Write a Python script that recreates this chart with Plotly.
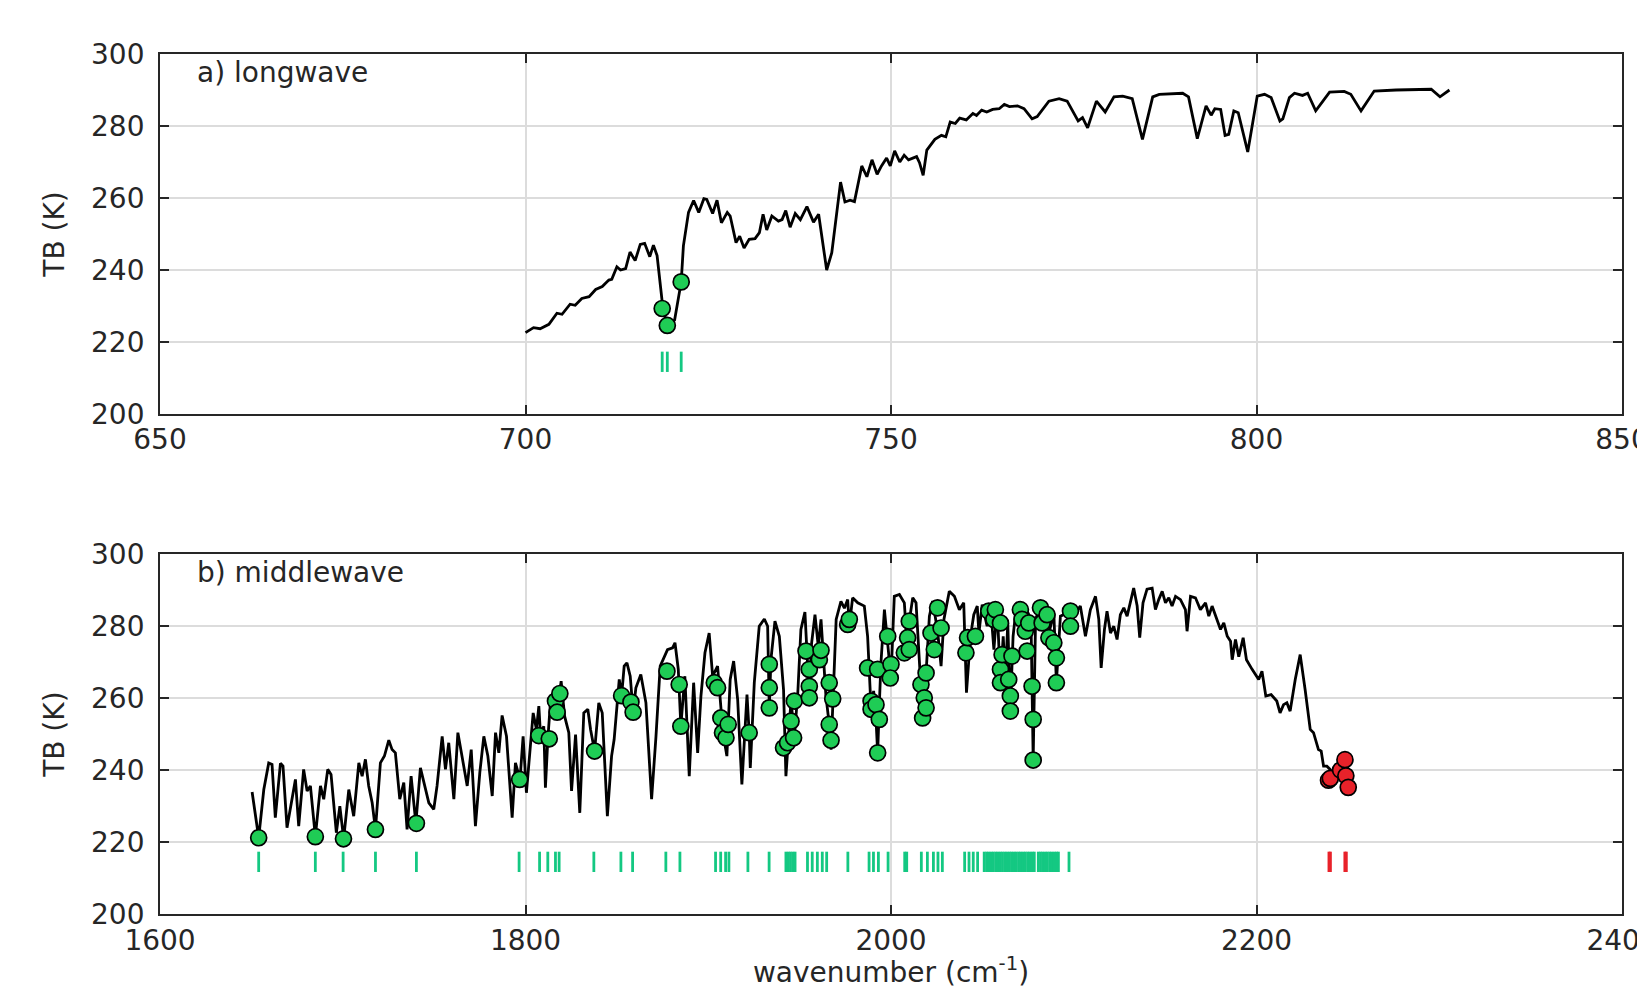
import plotly.graph_objects as go

# ---------------- data: a) longwave ----------------
lw_wn = [700.0, 701.1, 702.0, 703.2, 704.3, 705.0, 706.1, 706.8, 707.7, 708.7, 709.6, 710.5, 711.4, 711.8,
         712.5, 713.0, 713.7, 714.3, 715.0, 715.7, 716.3, 717.0, 717.5, 718.0, 718.8, 719.4, 720.4, 721.3,
         721.6, 722.3, 723.0, 723.7, 724.4, 724.8, 725.6, 726.2, 726.8, 727.6, 728.0, 728.8, 729.3, 729.9,
         730.6, 731.4, 732.0, 732.5, 733.0, 733.7, 734.6, 735.1, 735.6, 736.2, 736.9, 737.6, 738.5, 739.4,
         740.1, 741.2, 741.9, 743.1, 743.7, 744.4, 745.0, 746.0, 746.7, 747.4, 748.1, 748.7, 749.4, 749.9,
         750.5, 751.2, 751.8, 752.4, 753.5, 753.9, 754.4, 754.9, 756.0, 756.9, 757.5, 758.1, 758.8, 759.4,
         760.3, 761.2, 761.7, 762.4, 763.1, 763.9, 764.8, 765.5, 766.2, 767.3, 768.2, 769.3, 770.0, 771.6,
         773.0, 774.1, 775.6, 776.2, 776.9, 778.1, 779.3, 780.5, 781.7, 783.0, 784.4, 785.8, 786.7, 789.9,
         790.7, 791.9, 793.1, 793.8, 794.3, 795.1, 795.7, 796.2, 796.9, 797.5, 798.8, 800.1, 801.1, 802.0,
         803.2, 803.6, 804.5, 805.2, 806.3, 807.0, 808.1, 810.0, 812.0, 812.9, 814.3, 816.1, 819.1, 823.9,
         825.1, 826.4]
lw_tb = [222.6, 224.0, 223.7, 224.9, 228.0, 227.7, 230.5, 230.2, 232.1, 232.6, 234.6, 235.4, 237.2, 237.4,
         240.9, 240.0, 240.4, 245.0, 242.6, 247.1, 247.4, 243.7, 246.9, 244.0, 229.3, 224.6, 226.1, 236.7,
         246.7, 256.0, 259.3, 256.0, 259.8, 259.6, 255.7, 259.4, 253.1, 256.0, 255.0, 247.6, 249.4, 246.1,
         248.5, 248.7, 250.4, 255.5, 251.1, 255.0, 253.6, 254.0, 256.5, 251.9, 255.7, 254.0, 257.6, 253.3,
         255.5, 240.0, 244.8, 264.4, 258.9, 259.4, 259.0, 268.9, 265.9, 270.6, 266.6, 268.9, 271.1, 268.9,
         273.1, 270.0, 271.9, 270.6, 271.5, 269.8, 266.3, 273.3, 276.3, 277.4, 277.0, 281.1, 280.7, 282.2,
         281.7, 283.5, 282.9, 284.4, 283.9, 284.6, 284.8, 286.0, 285.4, 285.6, 284.8, 282.0, 282.6, 286.9,
         287.6, 286.9, 281.4, 282.3, 279.5, 286.9, 283.9, 288.1, 288.3, 287.6, 276.3, 288.1, 288.8, 289.1,
         288.1, 276.5, 285.6, 283.0, 284.8, 284.6, 277.4, 277.7, 284.2, 283.7, 272.8, 288.3, 288.8, 287.9,
         281.4, 282.0, 287.9, 289.1, 288.5, 289.1, 284.2, 289.4, 289.6, 288.8, 284.2, 289.7, 290.0, 290.2,
         288.1, 290.0]
lw_ch = [718.7, 719.4, 721.3]
lw_mk_tb = [229.3, 224.6, 236.7]

# ---------------- data: b) middlewave ----------------
mw_wn = [1650.4, 1654.0, 1656.8, 1659.5, 1661.3, 1663.1, 1665.9, 1667.3, 1669.5, 1671.7, 1674.1, 1675.9,
         1678.6, 1680.5, 1682.3, 1685.0, 1687.8, 1689.6, 1691.8, 1693.6, 1696.5, 1698.4, 1700.5, 1703.3,
         1706.0, 1708.8, 1710.6, 1712.4, 1714.2, 1716.1, 1717.9, 1720.6, 1722.8, 1725.2, 1727.0, 1728.8,
         1731.2, 1733.4, 1735.2, 1737.4, 1740.0, 1742.5, 1744.7, 1747.1, 1749.8, 1751.6, 1754.4, 1756.2,
         1758.0, 1760.8, 1763.0, 1765.3, 1768.1, 1770.3, 1772.6, 1775.0, 1777.2, 1779.4, 1781.8, 1783.6,
         1785.4, 1787.2, 1789.6, 1792.7, 1794.5, 1797.0, 1798.7, 1800.5, 1802.7, 1804.2, 1806.0, 1807.3,
         1808.2, 1810.0, 1810.9, 1812.2, 1813.7, 1815.9, 1817.3, 1819.5, 1821.4, 1823.7, 1825.2, 1827.4,
         1829.7, 1831.9, 1834.1, 1835.6, 1837.8, 1840.1, 1842.0, 1844.8, 1847.1, 1848.5, 1851.3, 1852.6,
         1854.0, 1855.5, 1857.3, 1858.9, 1860.4, 1863.1, 1865.9, 1869.0, 1871.4, 1873.7, 1877.7, 1880.5,
         1881.8, 1883.6, 1885.0, 1887.2, 1889.6, 1892.0, 1894.2, 1896.0, 1898.2, 1900.5, 1902.4, 1905.1,
         1907.3, 1908.5, 1910.2, 1912.0, 1913.9, 1916.1, 1918.4, 1921.2, 1922.4, 1923.0, 1925.2, 1927.9,
         1930.7, 1932.5, 1933.4, 1934.3, 1936.5, 1938.9, 1941.2, 1942.5, 1945.3, 1947.1, 1949.0, 1950.7,
         1952.9, 1954.4, 1955.3, 1956.5, 1958.4, 1960.2, 1961.7, 1964.4, 1966.2, 1967.2, 1968.5, 1970.0,
         1972.6, 1974.5, 1976.3, 1977.2, 1979.0, 1981.8, 1985.4, 1987.2, 1989.1, 1990.5, 1991.8, 1992.7,
         1993.6, 1994.5, 1996.4, 1997.8, 2000.0, 2001.8, 2004.6, 2007.3, 2009.1, 2010.0, 2011.9, 2013.7,
         2016.4, 2017.3, 2019.2, 2021.0, 2022.8, 2025.5, 2027.4, 2029.0, 2031.9, 2034.7, 2037.4, 2039.8,
         2041.3, 2043.5, 2045.3, 2047.2, 2048.1, 2049.9, 2052.6, 2054.4, 2056.3, 2058.1, 2059.9, 2061.4,
         2062.6, 2063.9, 2065.3, 2066.8, 2068.6, 2070.4, 2072.6, 2074.5, 2076.6, 2077.8, 2079.1, 2081.8,
         2084.5, 2086.9, 2089.1, 2090.5, 2092.7, 2096.4, 2100.9, 2103.6, 2106.4, 2109.1, 2111.9, 2113.7,
         2115.0, 2116.8, 2118.2, 2120.1, 2121.9, 2123.7, 2125.5, 2127.4, 2129.2, 2131.0, 2132.8, 2134.7,
         2136.1, 2137.9, 2140.1, 2142.9, 2144.7, 2146.5, 2148.4, 2150.2, 2152.0, 2153.8, 2155.7, 2158.4,
         2161.1, 2162.0, 2163.9, 2166.6, 2169.3, 2172.1, 2173.9, 2175.7, 2178.5, 2180.3, 2182.1, 2184.0,
         2185.8, 2186.7, 2188.5, 2190.3, 2192.7, 2194.5, 2197.6, 2201.2, 2203.0, 2205.1, 2208.0, 2211.1,
         2212.9, 2214.8, 2216.6, 2218.4, 2221.2, 2223.9, 2226.6, 2229.4, 2231.2, 2233.0, 2233.9, 2235.4,
         2236.7, 2238.5, 2240.3, 2242.4, 2245.0, 2247.0]
mw_tb = [233.9, 221.2, 234.6, 242.0, 241.6, 226.8, 241.9, 241.1, 224.0, 230.9, 237.4, 224.4,
         240.2, 234.2, 235.6, 221.5, 235.6, 231.9, 240.2, 238.8, 222.6, 230.0, 220.9, 234.6,
         227.2, 242.0, 238.3, 243.0, 235.6, 230.9, 223.5, 242.0, 243.9, 248.3, 245.7, 244.8,
         231.9, 236.5, 223.5, 238.3, 225.2, 240.6, 235.6, 230.9, 229.1, 235.6, 249.4, 240.2,
         247.6, 231.9, 250.4, 243.9, 235.6, 245.7, 224.4, 239.3, 249.4, 243.9, 232.8, 250.4,
         244.8, 255.2, 249.4, 226.8, 242.0, 237.4, 249.4, 233.7, 247.6, 255.9, 251.3, 257.8,
         249.9, 252.2, 235.1, 248.5, 259.2, 260.6, 256.1, 264.7, 255.0, 250.4, 234.2, 249.9,
         228.1, 255.9, 256.9, 251.3, 245.3, 258.7, 255.9, 227.2, 243.9, 248.5, 265.2, 260.7,
         268.9, 269.8, 266.1, 256.1, 262.9, 266.6, 258.7, 231.9, 249.4, 268.9, 273.5, 274.0,
         275.4, 268.0, 252.2, 266.1, 238.3, 264.3, 244.8, 260.6, 272.6, 278.1, 266.1, 268.9,
         255.0, 249.0, 243.9, 265.2, 270.3, 259.6, 236.0, 261.0, 250.4, 240.6, 264.3, 280.0,
         282.0, 280.0, 257.3, 270.7, 281.4, 277.2, 262.4, 238.3, 259.6, 249.0, 261.5, 279.1,
         283.9, 270.7, 260.1, 275.0, 283.2, 274.4, 281.9, 260.6, 252.7, 245.7, 262.0, 281.9,
         286.9, 285.0, 287.4, 280.0, 287.9, 286.5, 285.6, 277.2, 256.9, 262.0, 254.1, 244.8,
         258.0, 269.8, 284.6, 277.2, 265.6, 288.3, 288.8, 286.5, 272.6, 281.4, 287.9, 286.5,
         263.8, 254.5, 267.0, 282.8, 287.0, 278.6, 268.9, 282.0, 289.7, 288.3, 284.6, 286.5,
         261.5, 277.2, 283.2, 285.6, 278.1, 286.0, 280.0, 286.0, 273.5, 285.1, 264.3, 277.2,
         265.2, 280.9, 256.4, 277.2, 285.6, 283.7, 277.2, 284.2, 281.9, 242.8, 281.9, 285.6,
         286.0, 279.1, 283.7, 264.3, 282.8, 283.7, 283.7, 285.6, 277.2, 284.6, 288.3, 281.9,
         268.4, 279.1, 284.2, 278.1, 280.0, 276.3, 283.2, 285.1, 282.8, 286.5, 290.6, 285.6,
         276.8, 286.5, 290.3, 290.6, 284.6, 287.4, 289.7, 286.5, 287.9, 285.6, 288.3, 287.4,
         284.6, 278.6, 288.3, 287.9, 284.6, 286.5, 282.8, 285.6, 281.9, 279.1, 280.9, 277.2,
         275.8, 270.7, 276.3, 271.5, 276.8, 270.7, 268.0, 265.2, 267.5, 260.6, 261.0, 259.2,
         255.9, 258.2, 258.7, 256.4, 265.2, 272.1, 262.4, 251.3, 250.4, 247.6, 245.7, 245.3,
         241.1, 241.1, 240.2, 238.5, 240.5, 241.0]

# selected channels (ticks) - green
mw_ch_green = [1654.0, 1685.0, 1700.2, 1717.9, 1740.3, 1796.5, 1807.7, 1812.2, 1816.4, 1818.4, 1837.4,
               1852.2, 1858.6, 1876.8, 1884.5, 1904.0, 1906.8, 1909.5, 1911.3, 1921.7, 1933.3, 1942.5,
               1943.8, 1945.0, 1946.3, 1947.5, 1954.3, 1956.9, 1959.7, 1962.4, 1964.8, 1976.4, 1988.0,
               1990.4, 1993.1, 1998.4, 2007.5, 2008.6, 2016.6, 2019.9, 2023.2, 2025.7, 2028.1, 2040.3,
               2042.7, 2045.0, 2047.4, 2051.0, 2052.3, 2053.5, 2054.8, 2056.0, 2057.3, 2058.5, 2059.8,
               2061.0, 2062.3, 2063.5, 2064.8, 2066.0, 2067.3, 2068.5, 2069.8, 2071.0, 2072.3, 2073.5,
               2074.8, 2076.0, 2077.3, 2078.4, 2080.6, 2081.8, 2083.0, 2084.3, 2085.5, 2086.8, 2088.0,
               2089.3, 2090.5, 2091.6, 2097.4]
# selected channels (markers on spectrum) - green
mw_mk_green_wn = [1654.0, 1685.0, 1700.4, 1717.9, 1740.3, 1796.8, 1807.3, 1813.0, 1816.4, 1817.3, 1818.8,
                  1837.8, 1852.6, 1857.7, 1858.9, 1877.4, 1884.1, 1885.0, 1903.3, 1905.1, 1906.9, 1907.8,
                  1909.7, 1910.9, 1922.4, 1933.4, 1933.4, 1933.4, 1941.2, 1943.4, 1945.3, 1946.7, 1947.1,
                  1953.5, 1955.3, 1955.3, 1955.3, 1960.8, 1961.7, 1966.2, 1968.1, 1966.2, 1967.2, 1976.3,
                  1977.2, 1987.2, 1989.1, 1989.1, 1991.8, 1993.6, 1992.7, 1992.7, 1998.2, 2000.0, 1999.6,
                  2007.3, 2009.1, 2010.0, 2010.0, 2016.4, 2017.3, 2018.2, 2019.2, 2019.2, 2021.9, 2023.7,
                  2025.5, 2027.4, 2041.0, 2041.9, 2046.2, 2053.5, 2056.3, 2057.1, 2059.9, 2059.9, 2059.9,
                  2060.8, 2064.4, 2065.3, 2065.3, 2066.2, 2070.8, 2071.7, 2073.5, 2074.5, 2075.4, 2077.2,
                  2077.8, 2077.8, 2081.8, 2082.7, 2085.4, 2086.4, 2089.1, 2090.5, 2090.5, 2098.2, 2098.2]
mw_mk_green_tb = [221.2, 221.5, 220.9, 223.5, 225.2, 237.4, 249.6, 248.7, 259.2, 256.1, 261.3,
                  245.3, 260.7, 258.9, 256.1, 267.5, 263.8, 252.2, 264.3, 262.9, 254.5, 250.4,
                  249.0, 252.7, 250.4, 269.4, 262.9, 257.3, 246.2, 247.6, 253.6, 249.0, 259.2,
                  273.1, 268.0, 263.3, 260.1, 270.7, 273.3, 264.3, 259.8, 252.7, 248.3, 280.5,
                  281.9, 268.4, 259.2, 256.9, 258.2, 254.1, 244.8, 268.0, 277.2, 269.4, 265.6,
                  272.6, 276.8, 281.4, 273.5, 263.8, 254.5, 260.1, 267.0, 257.3, 278.1, 273.5,
                  285.1, 279.5, 272.6, 276.8, 277.2, 284.2, 281.9, 284.6, 280.9, 268.0, 264.3,
                  272.1, 265.2, 260.6, 256.4, 271.7, 284.6, 281.9, 278.6, 273.1, 280.9, 263.3,
                  254.1, 242.8, 285.1, 280.9, 283.2, 276.8, 275.4, 271.2, 264.3, 284.2, 280.0]
# selected channels - red
mw_ch_red = [2239.7, 2240.4, 2248.4, 2249.1]
mw_mk_red_wn = [2239.4, 2240.4, 2246.0, 2248.4, 2248.9, 2250.2]
mw_mk_red_tb = [237.2, 237.7, 240.0, 242.9, 238.4, 235.2]

TICK_TB = 214.5  # y position of channel tick marks

# ---------------- style ----------------
FONT = "DejaVu Sans, Liberation Sans, Arial, sans-serif"
TXT = "#262626"
GREEN = "#1fcc55"
TICK_GREEN = "#14c882"
RED = "#e8222a"
FS = 28

fig = go.Figure()

def add_panel(xa, ya, wn, tb, ch_g, mkx_g, mky_g, ch_r=None, mkx_r=None, mky_r=None):
    fig.add_trace(go.Scatter(x=wn, y=tb, mode="lines", xaxis=xa, yaxis=ya,
                             line=dict(color="black", width=2.8), hoverinfo="skip", showlegend=False))
    fig.add_trace(go.Scatter(x=mkx_g, y=mky_g, mode="markers", xaxis=xa, yaxis=ya, showlegend=False,
                             marker=dict(symbol="circle", size=16, color=GREEN,
                                         line=dict(color="black", width=1.7))))
    fig.add_trace(go.Scatter(x=ch_g, y=[TICK_TB] * len(ch_g), mode="markers", xaxis=xa, yaxis=ya,
                             showlegend=False,
                             marker=dict(symbol="line-ns", size=14.5,
                                         line=dict(color=TICK_GREEN, width=2.8))))
    if ch_r is not None:
        fig.add_trace(go.Scatter(x=mkx_r, y=mky_r, mode="markers", xaxis=xa, yaxis=ya, showlegend=False,
                                 marker=dict(symbol="circle", size=16, color=RED,
                                             line=dict(color="black", width=1.7))))
        fig.add_trace(go.Scatter(x=ch_r, y=[TICK_TB] * len(ch_r), mode="markers", xaxis=xa, yaxis=ya,
                                 showlegend=False,
                                 marker=dict(symbol="line-ns", size=14.5,
                                             line=dict(color=RED, width=3.0))))

add_panel("x", "y", lw_wn, lw_tb, lw_ch, lw_ch, lw_mk_tb)
add_panel("x2", "y2", mw_wn, mw_tb, mw_ch_green, mw_mk_green_wn, mw_mk_green_tb,
          mw_ch_red, mw_mk_red_wn, mw_mk_red_tb)

axis_common = dict(showline=True, linecolor=TXT, linewidth=1.8, mirror="ticks", ticks="inside",
                   ticklen=9, tickwidth=1.8, tickcolor=TXT, showgrid=True, gridcolor="#dcdcdc",
                   gridwidth=1.6, zeroline=False, automargin=False, ticklabeloverflow="allow",
                   tickfont=dict(family=FONT, size=FS, color=TXT))

# the page body has an 8px default margin, so the figure is sized to fit the window exactly
fig.update_layout(
    width=1637, height=981,
    margin=dict(l=152, r=23, t=46, b=75),
    paper_bgcolor="white", plot_bgcolor="white",
    font=dict(family=FONT, color=TXT, size=FS),
    xaxis=dict(domain=[0, 1], range=[650, 850], dtick=50, tick0=650, anchor="y",
               ticklabelstandoff=0, **axis_common),
    yaxis=dict(domain=[0.5814, 1], range=[200, 300], dtick=20, tick0=200, anchor="x",
               ticklabelstandoff=8,
               title=dict(text="TB (K)", standoff=18, font=dict(family=FONT, size=FS, color=TXT)),
               **axis_common),
    xaxis2=dict(domain=[0, 1], range=[1600, 2400], dtick=200, tick0=1600, anchor="y2",
                ticklabelstandoff=0,
                title=dict(text="wavenumber (cm<sup>-1</sup>)", standoff=4,
                           font=dict(family=FONT, size=FS, color=TXT)),
                **axis_common),
    yaxis2=dict(domain=[0, 0.4183], range=[200, 300], dtick=20, tick0=200, anchor="x2",
                ticklabelstandoff=8,
                title=dict(text="TB (K)", standoff=18, font=dict(family=FONT, size=FS, color=TXT)),
                **axis_common),
    annotations=[
        dict(text="a) longwave", xref="x domain", yref="y domain", x=0.024, y=1.0, xanchor="left",
             yanchor="top", yshift=0, showarrow=False, font=dict(family=FONT, size=FS, color=TXT)),
        dict(text="b) middlewave", xref="x2 domain", yref="y2 domain", x=0.024, y=1.0, xanchor="left",
             yanchor="top", yshift=0, showarrow=False, font=dict(family=FONT, size=FS, color=TXT)),
    ],
)

fig.write_html("out.html")
